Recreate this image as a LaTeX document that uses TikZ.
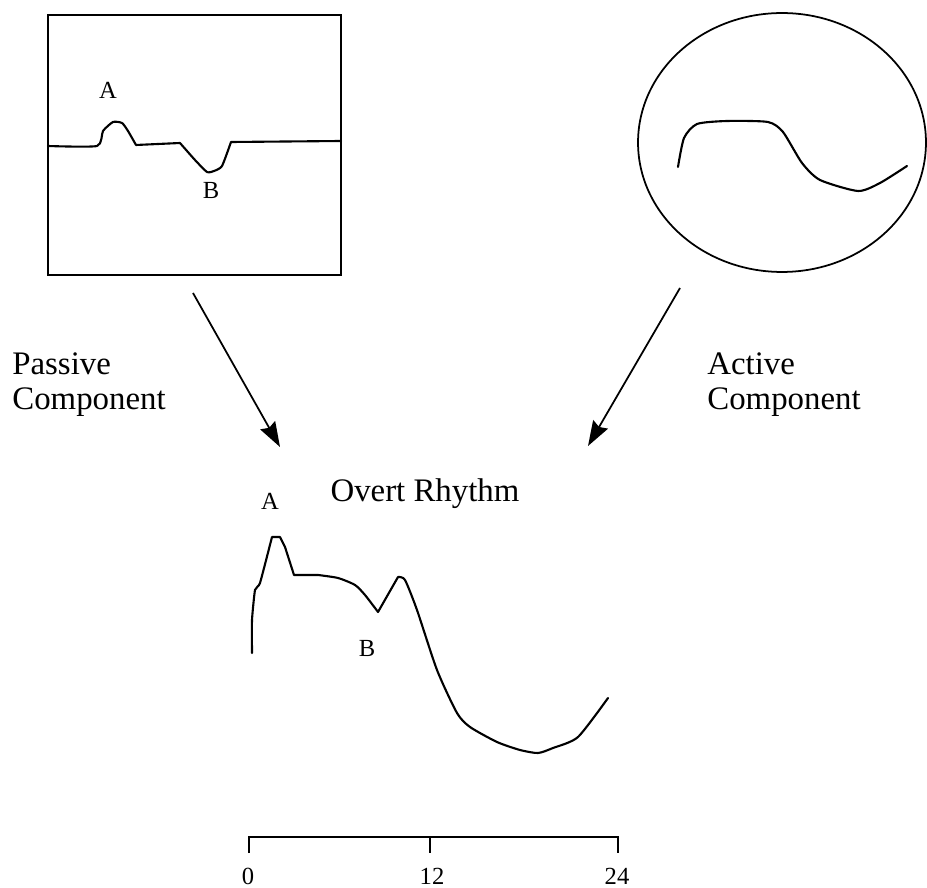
\documentclass[tikz,border=0pt]{standalone}
\usepackage{fontspec}
\setmainfont{Liberation Serif}
\usetikzlibrary{arrows.meta, shapes.geometric}

\begin{document}
\begin{tikzpicture}[
					x=0.02cm, y=-0.02cm,
					tracebox/.style={
						draw,
						rectangle,
						inner sep=0pt,
						line width=1.1pt,
						minimum width=5.86cm,
						minimum height=5.2cm
					},
					tracering/.style={
						draw,
						ellipse,
						inner sep=0pt,
						line width=1pt,
						minimum width=5.76cm,
						minimum height=5.18cm
					},
					trace/.style={line width=1.2pt, line join=round, line cap=round},
					biglabel/.style={font=\fontsize{18.7}{20}\selectfont, align=left, inner sep=0pt, anchor=base west},
					peaklabel/.style={font=\fontsize{14}{16}\selectfont, inner sep=0pt, anchor=base},
					feed/.style={-{Stealth[length=0.5cm, width=0.34cm, inset=0.06cm]}, line width=1pt}
					]
					\useasboundingbox (0,0) rectangle (927,888);
					
					% Component boxes
					\node (passive) [tracebox] at (194.5, 145) {};
					\node (active) [tracering] at (782, 142.5) {};
					
					% Passive trace
					\draw [trace] plot [smooth, tension=0.35] coordinates {(48,146) (97,146) (103,131) (113,122) (122,123) (128,131) (136,145)}
					-- (180,143) -- plot [smooth, tension=0.35] coordinates {(180,143) (195,160) (207,172) (214,171) (222,166) (231,142)} -- (341,141);
					\node (passA) [peaklabel] at (108, 99) {A};
					\node (passB) [peaklabel] at (211, 199) {B};
					
					% Active trace
					\draw [trace] plot [smooth, tension=0.4] coordinates {(678,167) (684,138) (697,124) (727,121) (768,122) (783,132) (802,163) (820,180) (858,191) (880,183) (907,166)};
					
					% Labels
					\node (passlabel) [biglabel] at (12, 410) {Passive\\Component};
					\node (actlabel) [biglabel] at (707, 410) {Active\\Component};
					
					% Arrows
					\coordinate (passfrom) at (193, 293);
					\coordinate (passto) at (280, 447);
					\coordinate (actfrom) at (680, 288);
					\coordinate (actto) at (588, 446);
					\draw [feed] (passfrom) -- (passto);
					\draw [feed] (actfrom) -- (actto);
					
					% Overt rhythm
					\node (overt) [biglabel, anchor=base] at (425, 502) {Overt Rhythm};
					\node (overtA) [peaklabel] at (270, 510) {A};
					\node (overtB) [peaklabel] at (367, 657) {B};
					\draw [trace] plot [smooth, tension=0.3] coordinates {(252,653) (252,620) (255,590) (260,583) (272,537)} -- (280,537)
					-- (285,547) -- (294,575) -- (318,575)
					plot [smooth, tension=0.4] coordinates {(318,575) (338,578) (355,585) (365,595) (378,612)} -- (398,577)
					plot [smooth, tension=0.4] coordinates {(398,577) (405,580) (417,610) (437,670) (457,713) (470,727) (497,742) (520,750) (538,753) (553,748) (578,737) (608,698)};
					
					% Time scale
					\draw [line width=1pt] (249,853) -- (249,837) -- (618,837) -- (618,853);
					\draw [line width=1pt] (430,837) -- (430,853);
					\node (tick0) [peaklabel] at (248, 884) {0};
					\node (tick12) [peaklabel] at (432, 884) {12};
					\node (tick24) [peaklabel] at (617, 884) {24};
					
				\end{tikzpicture}
\end{document}
